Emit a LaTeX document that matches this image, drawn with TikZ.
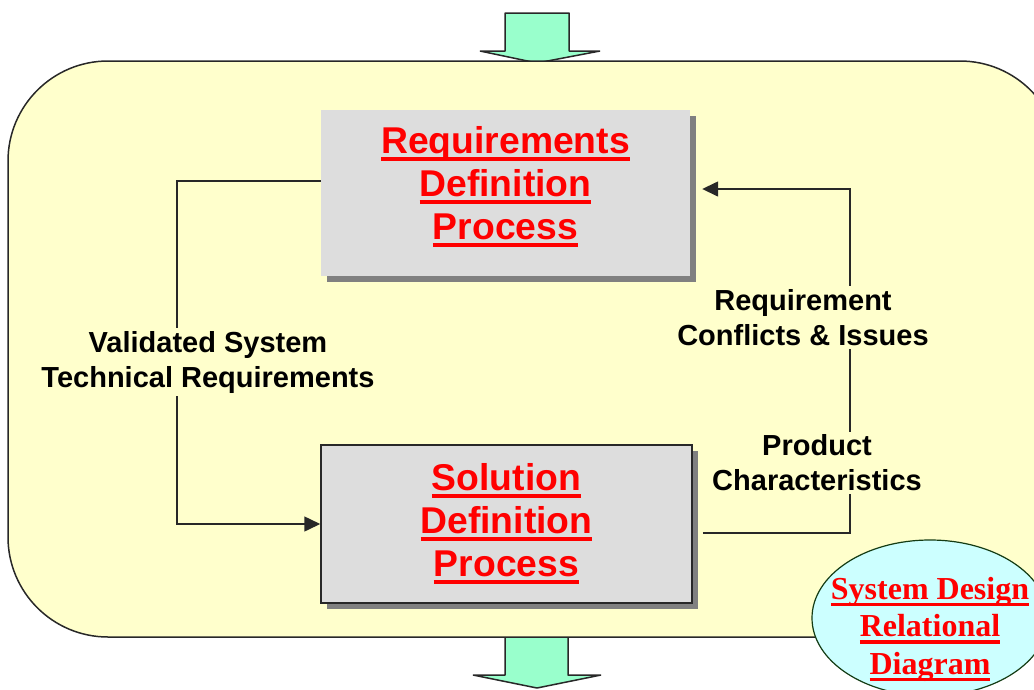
\documentclass[tikz,border=0pt]{standalone}
\usepackage{fontspec}
\setmainfont{Liberation Sans}
\newfontfamily\serifbold{Liberation Serif}
\usetikzlibrary{shapes.geometric,arrows.meta,shadows}
\definecolor{bgyellow}{RGB}{255,255,204}
\definecolor{mint}{RGB}{153,255,204}
\definecolor{boxgray}{RGB}{221,221,221}
\definecolor{shgray}{RGB}{128,128,128}
\definecolor{linegray}{RGB}{40,40,40}
\definecolor{ovalfill}{RGB}{204,255,255}
\definecolor{ovalline}{RGB}{20,60,20}
\newcommand{\myunderline}[3]{\setbox0\hbox{#3}\leavevmode\rlap{\rule[-#1]{\wd0}{#2}}\box0}
\newcommand{\bul}[1]{\myunderline{8pt}{4pt}{#1}}
\newcommand{\sul}[1]{\myunderline{7pt}{3.5pt}{#1}}
\tikzset{
  procbox/.style={rectangle, fill=boxgray, minimum width=#1, inner sep=0pt,
    general shadow={shadow xshift=6pt, shadow yshift=-6pt, fill=shgray}},
  boxtext/.style={text=red, font=\fontsize{37.3}{43}\selectfont\bfseries, align=center, inner sep=0pt},
  lbl/.style={font=\fontsize{29}{35}\selectfont\bfseries, align=center, fill=bgyellow, inner sep=3pt},
  conn/.style={draw=linegray, line width=1.5pt},
  tipconn/.style={conn, -{Triangle[length=16pt,width=15pt]}},
  blockarrow/.style={draw=linegray, fill=mint, line width=1.5pt, line join=bevel},
}
\begin{document}
\begin{tikzpicture}[x=1pt,y=-1pt]
\useasboundingbox (0,0) rectangle (1034,689);
% block arrows
\draw[blockarrow] (505,13) -- (569,13) -- (569,51) -- (600,51) -- (537,63) -- (480,51) -- (505,51) -- cycle;
\draw[blockarrow] (505,630) -- (568,630) -- (568,675) -- (601,675) -- (537,688) -- (473,675) -- (505,675) -- cycle;
% frame
\draw[fill=bgyellow, draw=linegray, line width=1.5pt, rounded corners=100pt] (8,61) rectangle (1060,637);
% process boxes
\node[procbox=369pt, minimum height=166pt] (req) at (505.5,193) {};
\node[procbox=371pt, minimum height=158pt, draw=linegray, line width=1.5pt] (sol) at (506.5,524) {};
\node[boxtext] (reqt) at (505.5,186.5) {\bul{Requirements}\\\bul{Definition}\\\bul{Process}};
\node[boxtext] (solt) at (506.5,523.5) {\bul{Solution}\\\bul{Definition}\\\bul{Process}};
% connectors
\draw[tipconn] ([yshift=12pt]req.west) -- ++(-144,0) |- (sol.west);
\draw[tipconn] ([xshift=10pt,yshift=-9pt]sol.east) -- ++(147,0) |- ([xshift=12pt,yshift=4pt]req.east);
% labels
\node[lbl] (vlab) at (208,362) {Validated System\\Technical Requirements};
\node[lbl] (rlab) at (803,317.5) {Requirement\\Conflicts \& Issues};
\node[lbl] (plab) at (817,463) {Product\\Characteristics};
% oval
\node[ellipse, draw=ovalline, fill=ovalfill, line width=1.2pt, minimum width=236pt, minimum height=156pt, inner sep=0pt] (oval) at (930,618) {};
\node[text=red, align=center, inner sep=0pt, font=\serifbold\fontsize{32}{37.5}\selectfont\bfseries] (ovalt) at (930,629)
  {\sul{System Design}\\\sul{Relational}\\\sul{Diagram}};
\end{tikzpicture}
\end{document}
